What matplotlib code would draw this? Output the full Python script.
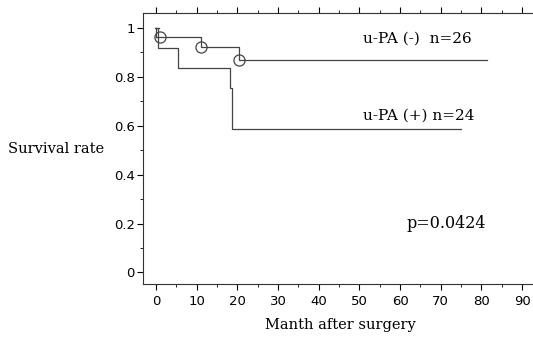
import matplotlib
import matplotlib.pyplot as plt
import numpy as np

matplotlib.use("Agg")

# Kaplan-Meier steps
neg_t = [0, 1, 11, 20.3, 81.5]
neg_s = [0.962, 0.962, 0.923, 0.870, 0.870]
neg_cens_t = [1, 11, 20.5]
neg_cens_s = [0.962, 0.923, 0.870]

pos_t = [0, 0.5, 5.5, 18.1, 18.7, 75]
pos_s = [1.0, 0.917, 0.835, 0.752, 0.586, 0.586]

x_ticks = [0, 10, 20, 30, 40, 50, 60, 70, 80, 90]
y_ticks = [0, 0.2, 0.4, 0.6, 0.8, 1]
y_labels = ["0", "0.2", "0.4", "0.6", "0.8", "1"]

serif = "DejaVu Serif"

fig = plt.figure(figsize=(5.33, 3.44), dpi=100)
ax = fig.add_axes([143 / 533, 1 - 284 / 344, 1 - 143 / 533 + 0.01, 271 / 344])

ax.step([0, 0], [1.0, 0.962], color="#444444", lw=0.9)
ax.step(neg_t, neg_s, where="post", color="#444444", lw=0.9)
ax.step(pos_t, pos_s, where="post", color="#444444", lw=0.9)
ax.plot([-0.3, 0.8], [1.0, 1.0], color="#444444", lw=0.9)
ax.plot(neg_cens_t, neg_cens_s, "o", ms=8, mfc="none", mec="#444444", mew=0.9)

ax.set_xlim(-3.2, 94)
ax.set_ylim(-0.047, 1.06)
ax.set_xticks(x_ticks)
ax.set_xticks(np.arange(5, 95, 10), minor=True)
ax.set_yticks(y_ticks)
ax.set_yticklabels(y_labels)
ax.set_yticks(np.arange(0.1, 1.0, 0.2), minor=True)
ax.tick_params(axis="x", which="both", direction="out", top=True, labelsize=9.5, pad=4, length=4)
ax.tick_params(axis="x", which="minor", length=2)
ax.tick_params(axis="y", which="both", direction="out", labelsize=9.5, pad=2, length=4)
ax.tick_params(axis="y", which="minor", length=2)
ax.spines["right"].set_visible(False)
for s in ax.spines.values():
    s.set_linewidth(0.8)
    s.set_color("#333333")

ax.set_xlabel("Manth after surgery", family=serif, fontsize=10.5, labelpad=7)
fig.text(8 / 533, 1 - 149 / 344, "Survival rate", family=serif, fontsize=10.5, va="center", ha="left")

ax.text(50.8, 0.955, "u-PA (-)  n=26", family=serif, fontsize=11, ha="left", va="center")
ax.text(50.8, 0.64, "u-PA (+) n=24", family=serif, fontsize=11, ha="left", va="center")
ax.text(61.6, 0.2, "p=0.0424", family=serif, fontsize=11.5, ha="left", va="center")

fig.savefig("out.png", dpi=100)
